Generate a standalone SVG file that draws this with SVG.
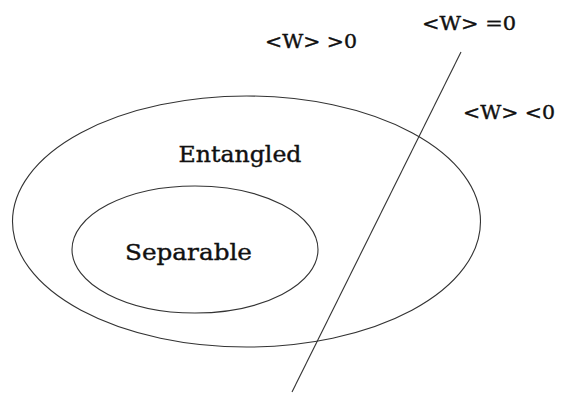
<svg xmlns="http://www.w3.org/2000/svg" width="563" height="395" viewBox="0 0 563 395">
<style>
.shape{fill:none;stroke:#333;stroke-width:1.1}
.lbl{font-family:"DejaVu Serif","Liberation Serif",serif;fill:#111;stroke:#111;stroke-width:0.4}
.big{font-size:23px}
.small{font-size:19px}
</style>
<rect width="563" height="395" fill="#fff"/>
<g id="entangled">
<ellipse class="shape" cx="246.5" cy="221.5" rx="234" ry="125.5"/>
<text class="lbl big" x="178.5" y="161.5" textLength="123" lengthAdjust="spacingAndGlyphs">Entangled</text>
</g>
<g id="separable">
<ellipse class="shape" cx="195" cy="249.5" rx="123" ry="63.5"/>
<text class="lbl big" x="125" y="260" textLength="127" lengthAdjust="spacingAndGlyphs">Separable</text>
</g>
<g id="connectors">
<line class="shape" x1="461" y1="52" x2="292" y2="392"/>
</g>
<g id="labels">
<text class="lbl small" x="265" y="47.5" textLength="92" lengthAdjust="spacingAndGlyphs">&lt;W&gt; &gt;0</text>
<text class="lbl small" x="422" y="29.5" textLength="94" lengthAdjust="spacingAndGlyphs">&lt;W&gt; =0</text>
<text class="lbl small" x="463" y="119" textLength="92" lengthAdjust="spacingAndGlyphs">&lt;W&gt; &lt;0</text>
</g>
</svg>
